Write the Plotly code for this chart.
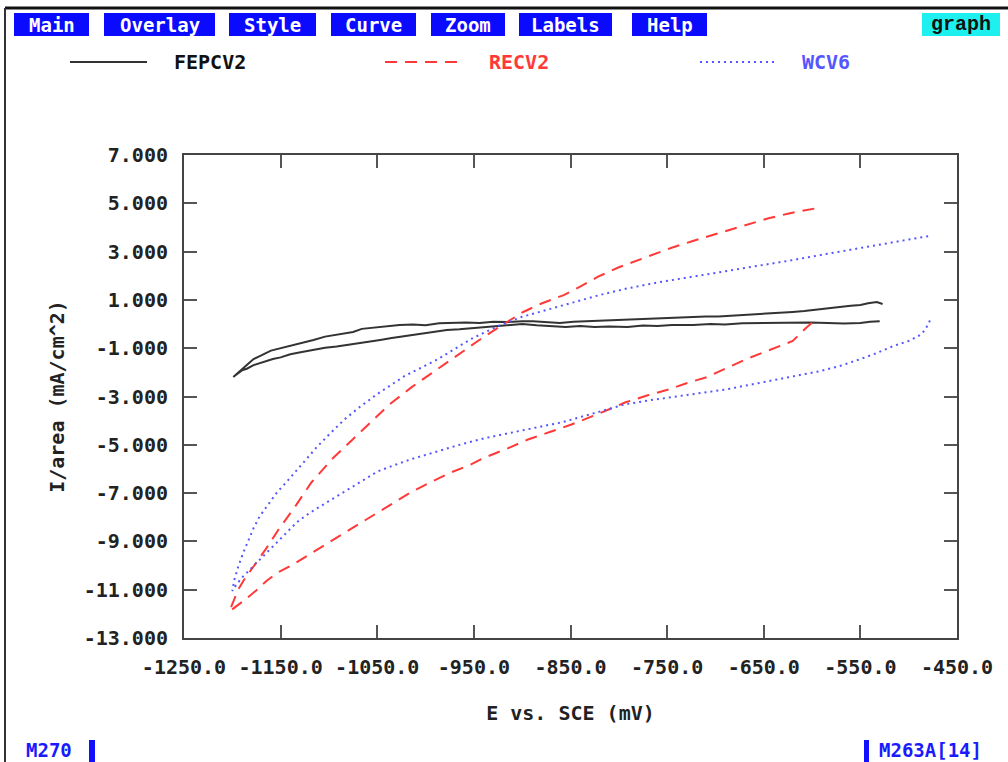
import plotly.graph_objects as go

# ---------------- data ----------------
series_names = ["FEPCV2", "RECV2", "WCV6"]

fepcv2_x = [-527, -533, -542, -550, -560, -572, -584, -596, -608, -620, -633, -646, -658, -671, -684, -697,
            -710, -723, -737, -750, -764, -778, -791, -805, -819, -833, -847, -861, -875, -889, -900, -915,
            -930, -944, -958, -972, -986, -1000, -1013, -1027, -1040, -1054, -1066, -1075, -1090, -1104, -1116,
            -1128, -1140, -1151, -1160, -1170, -1178, -1185, -1192, -1199,
            -1196, -1190, -1185, -1178, -1172, -1165, -1158, -1150, -1140, -1128, -1116, -1104, -1092, -1081,
            -1070, -1058, -1047, -1035, -1024, -1013, -1000, -990, -978, -965, -952, -940, -930, -915, -900,
            -885, -870, -855, -840, -825, -810, -791, -775, -760, -745, -723, -705, -690, -672, -654, -638,
            -620, -602, -584, -567, -550, -540, -530]
fepcv2_y = [0.83, 0.91, 0.86, 0.79, 0.76, 0.70, 0.66, 0.60, 0.54, 0.50, 0.47, 0.42, 0.40, 0.37, 0.36, 0.31,
            0.31, 0.29, 0.25, 0.24, 0.21, 0.20, 0.17, 0.15, 0.14, 0.11, 0.10, 0.04, 0.08, 0.12, 0.12, 0.08,
            0.10, 0.04, 0.06, 0.05, 0.03, -0.05, -0.02, -0.04, -0.10, -0.16, -0.20, -0.33, -0.42, -0.52, -0.66,
            -0.78, -0.90, -0.99, -1.10, -1.30, -1.45, -1.70, -1.95, -2.19,
            -2.10, -1.92, -1.85, -1.70, -1.62, -1.55, -1.45, -1.38, -1.25, -1.16, -1.07, -0.98, -0.93, -0.87,
            -0.78, -0.72, -0.66, -0.58, -0.52, -0.45, -0.40, -0.32, -0.25, -0.22, -0.18, -0.15, -0.12, -0.05, 0.00,
            -0.05, -0.10, -0.12, -0.08, -0.12, -0.10, -0.12, -0.06, -0.08, -0.04, -0.04, 0.00, -0.02, 0.03, 0.04, 0.02,
            0.04, 0.06, 0.04, 0.02, 0.04, 0.10, 0.12]

recv2_x = [-600, -606, -620, -645, -668, -690, -709, -730, -748, -770, -793, -820, -849, -870, -894, -915,
           -939, -955, -974, -995, -1016, -1033, -1050, -1067, -1084, -1102, -1120, -1137, -1154, -1165, -1175,
           -1188, -1203,
           -1198, -1194, -1188, -1181, -1174, -1165, -1152, -1134, -1118, -1097, -1076, -1058, -1038, -1014,
           -998, -972, -944, -923, -899, -880, -857, -840, -822, -800, -780, -764, -746, -725, -704, -686,
           -666, -645, -624, -610, -595]
recv2_y = [0.05, -0.15, -0.70, -1.10, -1.45, -1.85, -2.20, -2.45, -2.70, -2.95, -3.24, -3.70, -4.16, -4.45,
           -4.78, -5.15, -5.53, -5.85, -6.15, -6.55, -6.98, -7.40, -7.82, -8.25, -8.65, -9.10, -9.56, -9.95,
           -10.31, -10.65, -11.02, -11.45, -11.90,
           -11.35, -11.00, -10.60, -10.20, -9.80, -9.30, -8.50, -7.50, -6.55, -5.60, -4.80, -4.10, -3.35, -2.60,
           -2.15, -1.40, -0.65, -0.10, 0.50, 0.85, 1.20, 1.55, 1.95, 2.35, 2.65, 2.90, 3.15, 3.42, 3.68, 3.90,
           4.15, 4.38, 4.58, 4.70, 4.80]

wcv6_x = [-478, -483, -490, -500, -516, -533, -550, -570, -592, -614, -636, -662, -688, -714, -741, -767,
          -793, -826, -859, -885, -911, -938, -964, -990, -1016, -1033, -1050, -1070, -1092, -1106, -1120,
          -1133, -1144, -1153, -1161, -1172, -1182, -1190, -1196, -1200,
          -1198, -1194, -1189, -1183, -1178, -1172, -1163, -1154, -1143, -1133, -1122, -1112, -1098, -1084,
          -1067, -1050, -1022, -987, -953, -925, -900, -883, -862, -845, -820, -793, -760, -724, -690, -654,
          -620, -584, -550, -516, -495, -477]
wcv6_y = [0.15, -0.25, -0.50, -0.70, -0.91, -1.20, -1.45, -1.72, -1.95, -2.12, -2.28, -2.50, -2.70, -2.85,
          -2.99, -3.15, -3.32, -3.70, -4.07, -4.28, -4.49, -4.72, -4.99, -5.30, -5.61, -5.85, -6.11, -6.60,
          -7.15, -7.50, -7.82, -8.20, -8.65, -9.00, -9.35, -9.80, -10.19, -10.50, -10.80, -11.05,
          -10.60, -10.06, -9.50, -8.94, -8.45, -7.98, -7.50, -6.98, -6.50, -6.03, -5.55, -5.07, -4.50, -3.95,
          -3.40, -2.90, -2.16, -1.45, -0.62, -0.08, 0.30, 0.50, 0.72, 0.92, 1.20, 1.46, 1.72, 1.96, 2.20, 2.41,
          2.65, 2.91, 3.15, 3.41, 3.55, 3.66]

x_tick_vals = [-1250, -1150, -1050, -950, -850, -750, -650, -550, -450]
x_tick_text = ["-1250.0", "-1150.0", "-1050.0", "-950.0", "-850.0", "-750.0", "-650.0", "-550.0", "-450.0"]
y_tick_vals = [7, 5, 3, 1, -1, -3, -5, -7, -9, -11, -13]
y_tick_text = ["7.000", "5.000", "3.000", "1.000", "-1.000", "-3.000", "-5.000", "-7.000", "-9.000",
               "-11.000", "-13.000"]

menu_labels = ["Main", "Overlay", "Style", "Curve", "Zoom", "Labels", "Help"]

# ---------------- layout geometry ----------------
W, H = 1008, 762
L, R, T, B = 184, 51, 155, 124
PW, PH = W - L - R, H - T - B


def px(x):
    return (x - L) / PW


def py(y):
    return (H - B - y) / PH


MONO = "DejaVu Sans Mono"
BLACK = "#333333"
RED = "#ff3838"
BLUE = "#5656ff"

fig = go.Figure()
fig.add_trace(go.Scatter(x=fepcv2_x, y=fepcv2_y, mode="lines", name=series_names[0],
                         line=dict(color=BLACK, width=2)))
fig.add_trace(go.Scatter(x=recv2_x, y=recv2_y, mode="lines", name=series_names[1],
                         line=dict(color=RED, width=2, dash="12px,8px")))
fig.add_trace(go.Scatter(x=wcv6_x, y=wcv6_y, mode="lines", name=series_names[2],
                         line=dict(color=BLUE, width=2, dash="2px,4px")))

axis_common = dict(showgrid=False, zeroline=False, showline=True, linecolor="#444444", linewidth=2,
                   mirror="ticks", ticks="inside", ticklen=13, tickwidth=2, tickcolor="#555555",
                   tickfont=dict(family=MONO, size=20, color="#222222", weight="bold"))

fig.update_layout(
    width=W, height=H,
    margin=dict(l=L, r=R, t=T, b=B),
    paper_bgcolor="white", plot_bgcolor="white",
    showlegend=False,
    xaxis=dict(range=[-1250, -450], tickvals=x_tick_vals, ticktext=x_tick_text,
               ticklabelstandoff=10,
               title=dict(text="E vs. SCE (mV)", standoff=28,
                          font=dict(family=MONO, size=20, color="#222222", weight="bold")),
               **axis_common),
    yaxis=dict(range=[-13, 7], tickvals=y_tick_vals, ticktext=y_tick_text,
               ticklabelstandoff=10,
               title=dict(text="I/area (mA/cm^2)", standoff=14,
                          font=dict(family=MONO, size=20, color="#222222", weight="bold")),
               **axis_common),
)

shapes = []
annotations = []

# outer frame lines (top and left)
shapes.append(dict(type="line", xref="paper", yref="paper", x0=px(5), x1=px(W), y0=py(8), y1=py(8),
                   line=dict(color="#111111", width=3)))
shapes.append(dict(type="line", xref="paper", yref="paper", x0=px(5), x1=px(5), y0=py(8), y1=py(H),
                   line=dict(color="#333333", width=2)))

# menu buttons
button_spans = [(14, 89), (104, 215), (229, 316), (331, 416), (431, 505), (519, 612), (632, 707)]
for label, (a, b) in zip(menu_labels, button_spans):
    shapes.append(dict(type="rect", xref="paper", yref="paper", x0=px(a), x1=px(b), y0=py(13), y1=py(36),
                       fillcolor="#0a0aff", line=dict(width=0)))
    annotations.append(dict(xref="paper", yref="paper", x=px((a + b) / 2), y=py(24.5), text=label,
                            showarrow=False, xanchor="center", yanchor="middle",
                            font=dict(family=MONO, size=19, color="white", weight="bold")))
shapes.append(dict(type="rect", xref="paper", yref="paper", x0=px(922), x1=px(1000), y0=py(13), y1=py(36),
                   fillcolor="#1ef0f0", line=dict(width=0)))
annotations.append(dict(xref="paper", yref="paper", x=px(961), y=py(24.5), text="graph", showarrow=False,
                        xanchor="center", yanchor="middle",
                        font=dict(family="Liberation Mono", size=20, color="#111111", weight="bold")))

# manual legend
legend_items = [((70, 147), 172, BLACK, "solid", "#111111"),
                ((385, 462), 487, RED, "12px,8px", RED),
                ((700, 778), 800, BLUE, "2px,4px", BLUE)]
for name, ((a, b), tx, col, dash, tcol) in zip(series_names, legend_items):
    shapes.append(dict(type="line", xref="paper", yref="paper", x0=px(a), x1=px(b), y0=py(62), y1=py(62),
                       line=dict(color=col, width=2, dash=dash)))
    annotations.append(dict(xref="paper", yref="paper", x=px(tx), y=py(62), text=name, showarrow=False,
                            xanchor="left", yanchor="middle",
                            font=dict(family=MONO, size=20, color=tcol, weight="bold")))

# status bar
annotations.append(dict(xref="paper", yref="paper", x=px(24), y=py(750), text="M270", showarrow=False,
                        xanchor="left", yanchor="middle",
                        font=dict(family=MONO, size=19, color="#1a1aff", weight="bold")))
shapes.append(dict(type="rect", xref="paper", yref="paper", x0=px(89), x1=px(95), y0=py(740), y1=py(762),
                   fillcolor="#1010ff", line=dict(width=0)))
shapes.append(dict(type="rect", xref="paper", yref="paper", x0=px(864), x1=px(869), y0=py(740), y1=py(762),
                   fillcolor="#1010ff", line=dict(width=0)))
annotations.append(dict(xref="paper", yref="paper", x=px(877), y=py(750), text="M263A[14]", showarrow=False,
                        xanchor="left", yanchor="middle",
                        font=dict(family=MONO, size=19, color="#1a1aff", weight="bold")))

fig.update_layout(shapes=shapes, annotations=annotations)

fig.write_html("out.html", config={"displayModeBar": False},
               post_script="document.body.style.margin='0';document.body.style.overflow='hidden';")
